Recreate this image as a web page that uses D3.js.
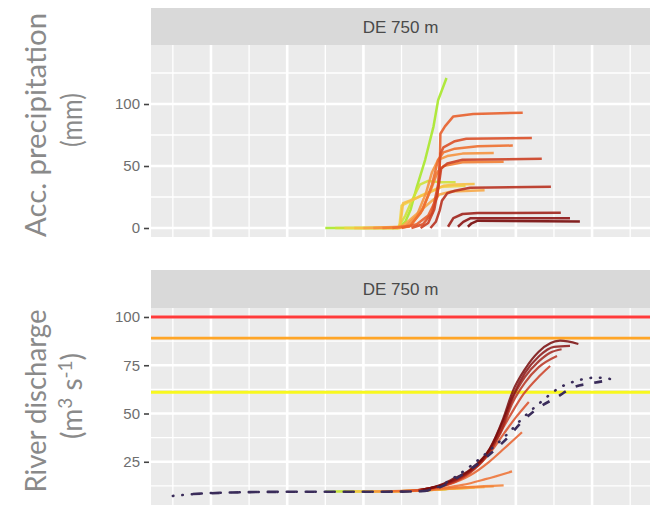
<!DOCTYPE html>
<html>
<head>
<meta charset="utf-8">
<script src="https://cdn.jsdelivr.net/npm/d3@7"></script>
<style>
  body { margin: 0; background: #fff; }
</style>
</head>
<body>
<div id="chart"></div>
<script>
// forecast runs, oldest (green) to newest (dark red); x = days, y = value
const runColors = ["#a8e82a", "#cfe23a", "#f0d648", "#f7c046", "#f7a848", "#f59440", "#f28035",
  "#ee7030", "#e8602c", "#dc5028", "#cc4024", "#b83220", "#a0241c", "#8c1414", "#780a0a"];

const precipRuns = [
  [[1.50, 0], [2.45, 0], [2.55, 5], [2.62, 15], [2.70, 33], [2.81, 55], [2.92, 82], [2.98, 103], [3.09, 121]],
  [[1.63, 0], [2.45, 0], [2.55, 10], [2.65, 24], [2.74, 35], [2.85, 38], [3.0, 37], [3.21, 37]],
  [[1.75, 0], [2.47, 0], [2.50, 18], [2.60, 21], [2.75, 26], [2.90, 30], [3.0, 33], [3.34, 34]],
  [[1.88, 0], [2.48, 0], [2.52, 20], [2.65, 23], [2.80, 27], [2.95, 31], [3.05, 34], [3.2, 35], [3.46, 35.5]],
  [[2.0, 0], [2.5, 1], [2.6, 6], [2.75, 14], [2.9, 22], [3.0, 27], [3.15, 29.5], [3.59, 30.5]],
  [[2.13, 0], [2.55, 1], [2.7, 10], [2.82, 28], [2.9, 45], [2.98, 55], [3.1, 58], [3.3, 60], [3.71, 60.5]],
  [[2.25, 0], [2.6, 1], [2.75, 12], [2.88, 30], [2.97, 45], [3.05, 50], [3.3, 53], [3.84, 53.5]],
  [[2.38, 0], [2.62, 2], [2.78, 15], [2.9, 35], [2.98, 55], [3.05, 61], [3.2, 64], [3.5, 66], [3.96, 66.5]],
  [[2.5, 0], [2.7, 3], [2.85, 10], [2.97, 25], [3.0, 45], [3.01, 76], [3.07, 82], [3.18, 90], [3.44, 92], [4.09, 93]],
  [[2.63, 0], [2.78, 3], [2.9, 12], [2.98, 35], [3.01, 60], [3.05, 65], [3.2, 70], [3.35, 72], [4.21, 72.5]],
  [[2.75, 0], [2.85, 4], [2.93, 15], [2.99, 35], [3.02, 48], [3.1, 52], [3.3, 55], [4.34, 55.8]],
  [[2.88, 0], [2.95, 5], [3.0, 14], [3.03, 22], [3.1, 28], [3.2, 30], [3.4, 32.5], [4.46, 33.3]],
  [[3.11, 1], [3.18, 8], [3.3, 11.3], [3.5, 12], [4.59, 12.3]],
  [[3.24, 1], [3.31, 5], [3.4, 7.8], [4.71, 7.8]],
  [[3.37, 1], [3.42, 3.8], [3.5, 5.9], [4.84, 5.3]]
];

const dischargeRuns = [
  [[1.5, 9.6], [2.0, 9.7], [2.5, 9.8], [2.8, 10.2], [3.09, 10.8]],
  [[1.63, 9.6], [2.2, 9.7], [2.6, 9.9], [2.9, 10.4], [3.21, 11.2]],
  [[1.75, 9.6], [2.3, 9.7], [2.7, 10], [3.0, 10.7], [3.34, 11.5]],
  [[1.88, 9.6], [2.4, 9.7], [2.8, 10.1], [3.1, 10.9], [3.46, 11.6]],
  [[2.0, 9.6], [2.5, 9.8], [2.85, 10.3], [3.2, 11.1], [3.59, 11.8]],
  [[2.13, 9.6], [2.6, 9.9], [2.9, 10.6], [3.3, 11.6], [3.71, 12.2]],
  [[2.25, 9.7], [2.7, 10], [3.0, 10.9], [3.4, 12], [3.84, 12.8]],
  [[2.38, 9.8], [2.8, 10.3], [3.0, 11.2], [3.3, 13], [3.6, 16], [3.95, 20]],
  [[2.5, 9.8], [2.85, 10.8], [3.1, 13], [3.4, 18], [3.65, 25], [3.85, 32], [4.08, 40.3]],
  [[2.63, 10], [2.9, 11.5], [3.15, 14], [3.4, 19.5], [3.65, 29], [3.85, 40], [4.0, 48], [4.17, 56]],
  [[2.72, 10.2], [3.0, 12], [3.25, 15.5], [3.5, 23], [3.72, 35], [3.92, 48.6], [4.1, 60], [4.3, 69], [4.45, 74.6]],
  [[2.72, 10.3], [2.9, 11.5], [3.1, 13.5], [3.35, 18.5], [3.6, 27], [3.8, 40], [3.95, 55], [4.12, 66], [4.3, 74], [4.54, 79.8]],
  [[2.74, 10.4], [2.92, 11.8], [3.12, 14], [3.38, 19.5], [3.63, 29], [3.82, 43], [3.96, 58], [4.12, 69], [4.3, 77], [4.45, 81.5], [4.6, 83.3]],
  [[2.76, 10.5], [2.95, 12], [3.14, 14.8], [3.4, 20.5], [3.65, 31], [3.83, 46], [3.97, 60], [4.12, 71], [4.3, 79.5], [4.5, 84.5], [4.71, 85]],
  [[2.78, 10.6], [3.0, 12.8], [3.15, 15.6], [3.4, 21], [3.66, 32], [3.83, 47], [3.96, 61.6], [4.12, 73], [4.3, 82], [4.58, 87.7], [4.82, 86]]
];

const obsDashed = [[-0.24, 8.3], [0.2, 9.0], [0.8, 9.4], [1.5, 9.5], [2.2, 9.5], [2.75, 9.7], [2.95, 11], [3.2, 16],
  [3.57, 26], [3.88, 37], [4.1, 46.5], [4.3, 53], [4.54, 58.5], [4.75, 63.5], [4.98, 65.6], [5.19, 67]];
const obsDotted = [[-0.5, 7.3], [0, 8.8], [0.8, 9.4], [1.5, 9.5], [2.2, 9.5], [2.75, 9.7], [2.95, 11.5], [3.2, 17],
  [3.57, 28], [3.88, 39], [4.1, 48], [4.3, 55], [4.58, 63.5], [4.82, 67.2], [5.06, 68.6], [5.32, 67.3]];

const thresholds = [100, 89, 61];
const thresholdColors = ["#ff3b3b", "#ffa526", "#f8f81e"];

const precipTicks = [0, 50, 100];
const precipMinor = [25, 75, 125];
const dischargeTicks = [25, 50, 75, 100];
const dischargeMinor = [12.5, 37.5, 62.5, 87.5];
const xMajor = [0, 1, 2, 3, 4, 5];
const xMinor = [-0.5, 0.5, 1.5, 2.5, 3.5, 4.5, 5.5];
const stripLabel = "DE 750 m";

const width = 653, height = 505;
const left = 151, right = 650;

const svg = d3.select("#chart")
  .append("svg")
  .attr("width", width)
  .attr("height", height);

const x = d3.scaleLinear().domain([-0.787, 5.76]).range([left, right]);
const yP = d3.scaleLinear().domain([-7.26, 147.6]).range([237, 45]);
const yQ = d3.scaleLinear().domain([2.35, 104.65]).range([505.5, 308]);

function panel(id, y, stripTop, ticks, minor) {
  const [bottom, top] = y.range();
  const g = svg.append("g");

  g.append("rect")
    .attr("x", left).attr("y", stripTop)
    .attr("width", right - left).attr("height", top - stripTop)
    .attr("fill", "#d9d9d9");
  g.append("text")
    .attr("x", (left + right) / 2)
    .attr("y", (stripTop + top) / 2)
    .attr("dy", "0.36em")
    .attr("text-anchor", "middle")
    .style("font-family", "Liberation Sans, Arial, sans-serif")
    .style("font-size", "17px")
    .style("fill", "#4a4a4a")
    .text(stripLabel);

  g.append("rect")
    .attr("x", left).attr("y", top)
    .attr("width", right - left).attr("height", bottom - top)
    .attr("fill", "#ebebeb");

  g.selectAll(".hminor").data(minor).enter().append("line")
    .attr("x1", left).attr("x2", right)
    .attr("y1", d => y(d)).attr("y2", d => y(d))
    .attr("stroke", "#fff").attr("stroke-width", 1.3);
  g.selectAll(".vminor").data(xMinor).enter().append("line")
    .attr("x1", d => x(d)).attr("x2", d => x(d))
    .attr("y1", top).attr("y2", bottom)
    .attr("stroke", "#fff").attr("stroke-width", 1.3);
  g.selectAll(".hmajor").data(ticks).enter().append("line")
    .attr("x1", left).attr("x2", right)
    .attr("y1", d => y(d)).attr("y2", d => y(d))
    .attr("stroke", "#fff").attr("stroke-width", 2.6);
  g.selectAll(".vmajor").data(xMajor).enter().append("line")
    .attr("x1", d => x(d)).attr("x2", d => x(d))
    .attr("y1", top).attr("y2", bottom)
    .attr("stroke", "#fff").attr("stroke-width", 2.6);

  const axis = g.append("g")
    .attr("transform", `translate(${left - 2},0)`)
    .call(d3.axisLeft(y).tickValues(ticks).tickSize(5).tickPadding(4));
  axis.select(".domain").remove();
  axis.selectAll(".tick line").attr("stroke", "#444").attr("stroke-width", 1.6);
  axis.selectAll(".tick text")
    .style("font-family", "Liberation Sans, Arial, sans-serif")
    .style("font-size", "15px")
    .style("fill", "#6e6e6e");

  svg.append("clipPath").attr("id", id)
    .append("rect")
    .attr("x", left).attr("y", top)
    .attr("width", right - left).attr("height", bottom - top);

  return svg.append("g").attr("clip-path", `url(#${id})`);
}

// precipitation panel
const topG = panel("clipP", yP, 8, precipTicks, precipMinor);
const precipLine = d3.line().x(d => x(d[0])).y(d => yP(d[1]));
topG.selectAll(".prun")
  .data(precipRuns)
  .enter()
  .append("path")
  .attr("fill", "none")
  .attr("stroke", (d, i) => runColors[i])
  .attr("stroke-width", 2.5)
  .attr("stroke-opacity", 0.9)
  .attr("stroke-linejoin", "round")
  .attr("d", precipLine);

// discharge panel
const botG = panel("clipQ", yQ, 270, dischargeTicks, dischargeMinor);
const qLine = d3.line().x(d => x(d[0])).y(d => yQ(d[1])).curve(d3.curveMonotoneX);

botG.selectAll(".thr")
  .data(thresholds)
  .enter()
  .append("line")
  .attr("x1", left).attr("x2", right)
  .attr("y1", d => yQ(d)).attr("y2", d => yQ(d))
  .attr("stroke", (d, i) => thresholdColors[i])
  .attr("stroke-width", 2.8);

botG.selectAll(".qrun")
  .data(dischargeRuns)
  .enter()
  .append("path")
  .attr("fill", "none")
  .attr("stroke", (d, i) => runColors[i])
  .attr("stroke-width", 2.2)
  .attr("stroke-opacity", 0.85)
  .attr("d", qLine);

botG.append("path")
  .datum(obsDashed)
  .attr("fill", "none")
  .attr("stroke", "#3a2c5a")
  .attr("stroke-width", 2.6)
  .attr("stroke-dasharray", "8,11")
  .attr("d", qLine);

botG.append("path")
  .datum(obsDotted)
  .attr("fill", "none")
  .attr("stroke", "#3a2c5a")
  .attr("stroke-width", 2.6)
  .attr("stroke-linecap", "round")
  .attr("stroke-dasharray", "0.5,9")
  .attr("d", qLine);

// axis titles
function title(cx, cy, len, build) {
  const t = svg.append("text")
    .attr("transform", `translate(${cx},${cy}) rotate(-90)`)
    .attr("text-anchor", "middle")
    .style("font-family", "Lato, sans-serif")
    .style("font-size", "28px")
    .style("fill", "#8a8a8a");
  build(t);
  if (len) t.attr("textLength", len).attr("lengthAdjust", "spacingAndGlyphs");
}

title(46, 125, 224, t => t.text("Acc. precipitation"));
title(82, 120, 54, t => t.text("(mm)"));
title(46, 401, 183, t => t.text("River discharge"));
title(82, 396, null, t => {
  t.append("tspan").text("(m");
  t.append("tspan").attr("dy", -10).style("font-size", "19px").text("3");
  t.append("tspan").attr("dy", 10).text(" s");
  t.append("tspan").attr("dy", -10).style("font-size", "19px").text("-1");
  t.append("tspan").attr("dy", 10).text(")");
});
</script>
</body>
</html>
